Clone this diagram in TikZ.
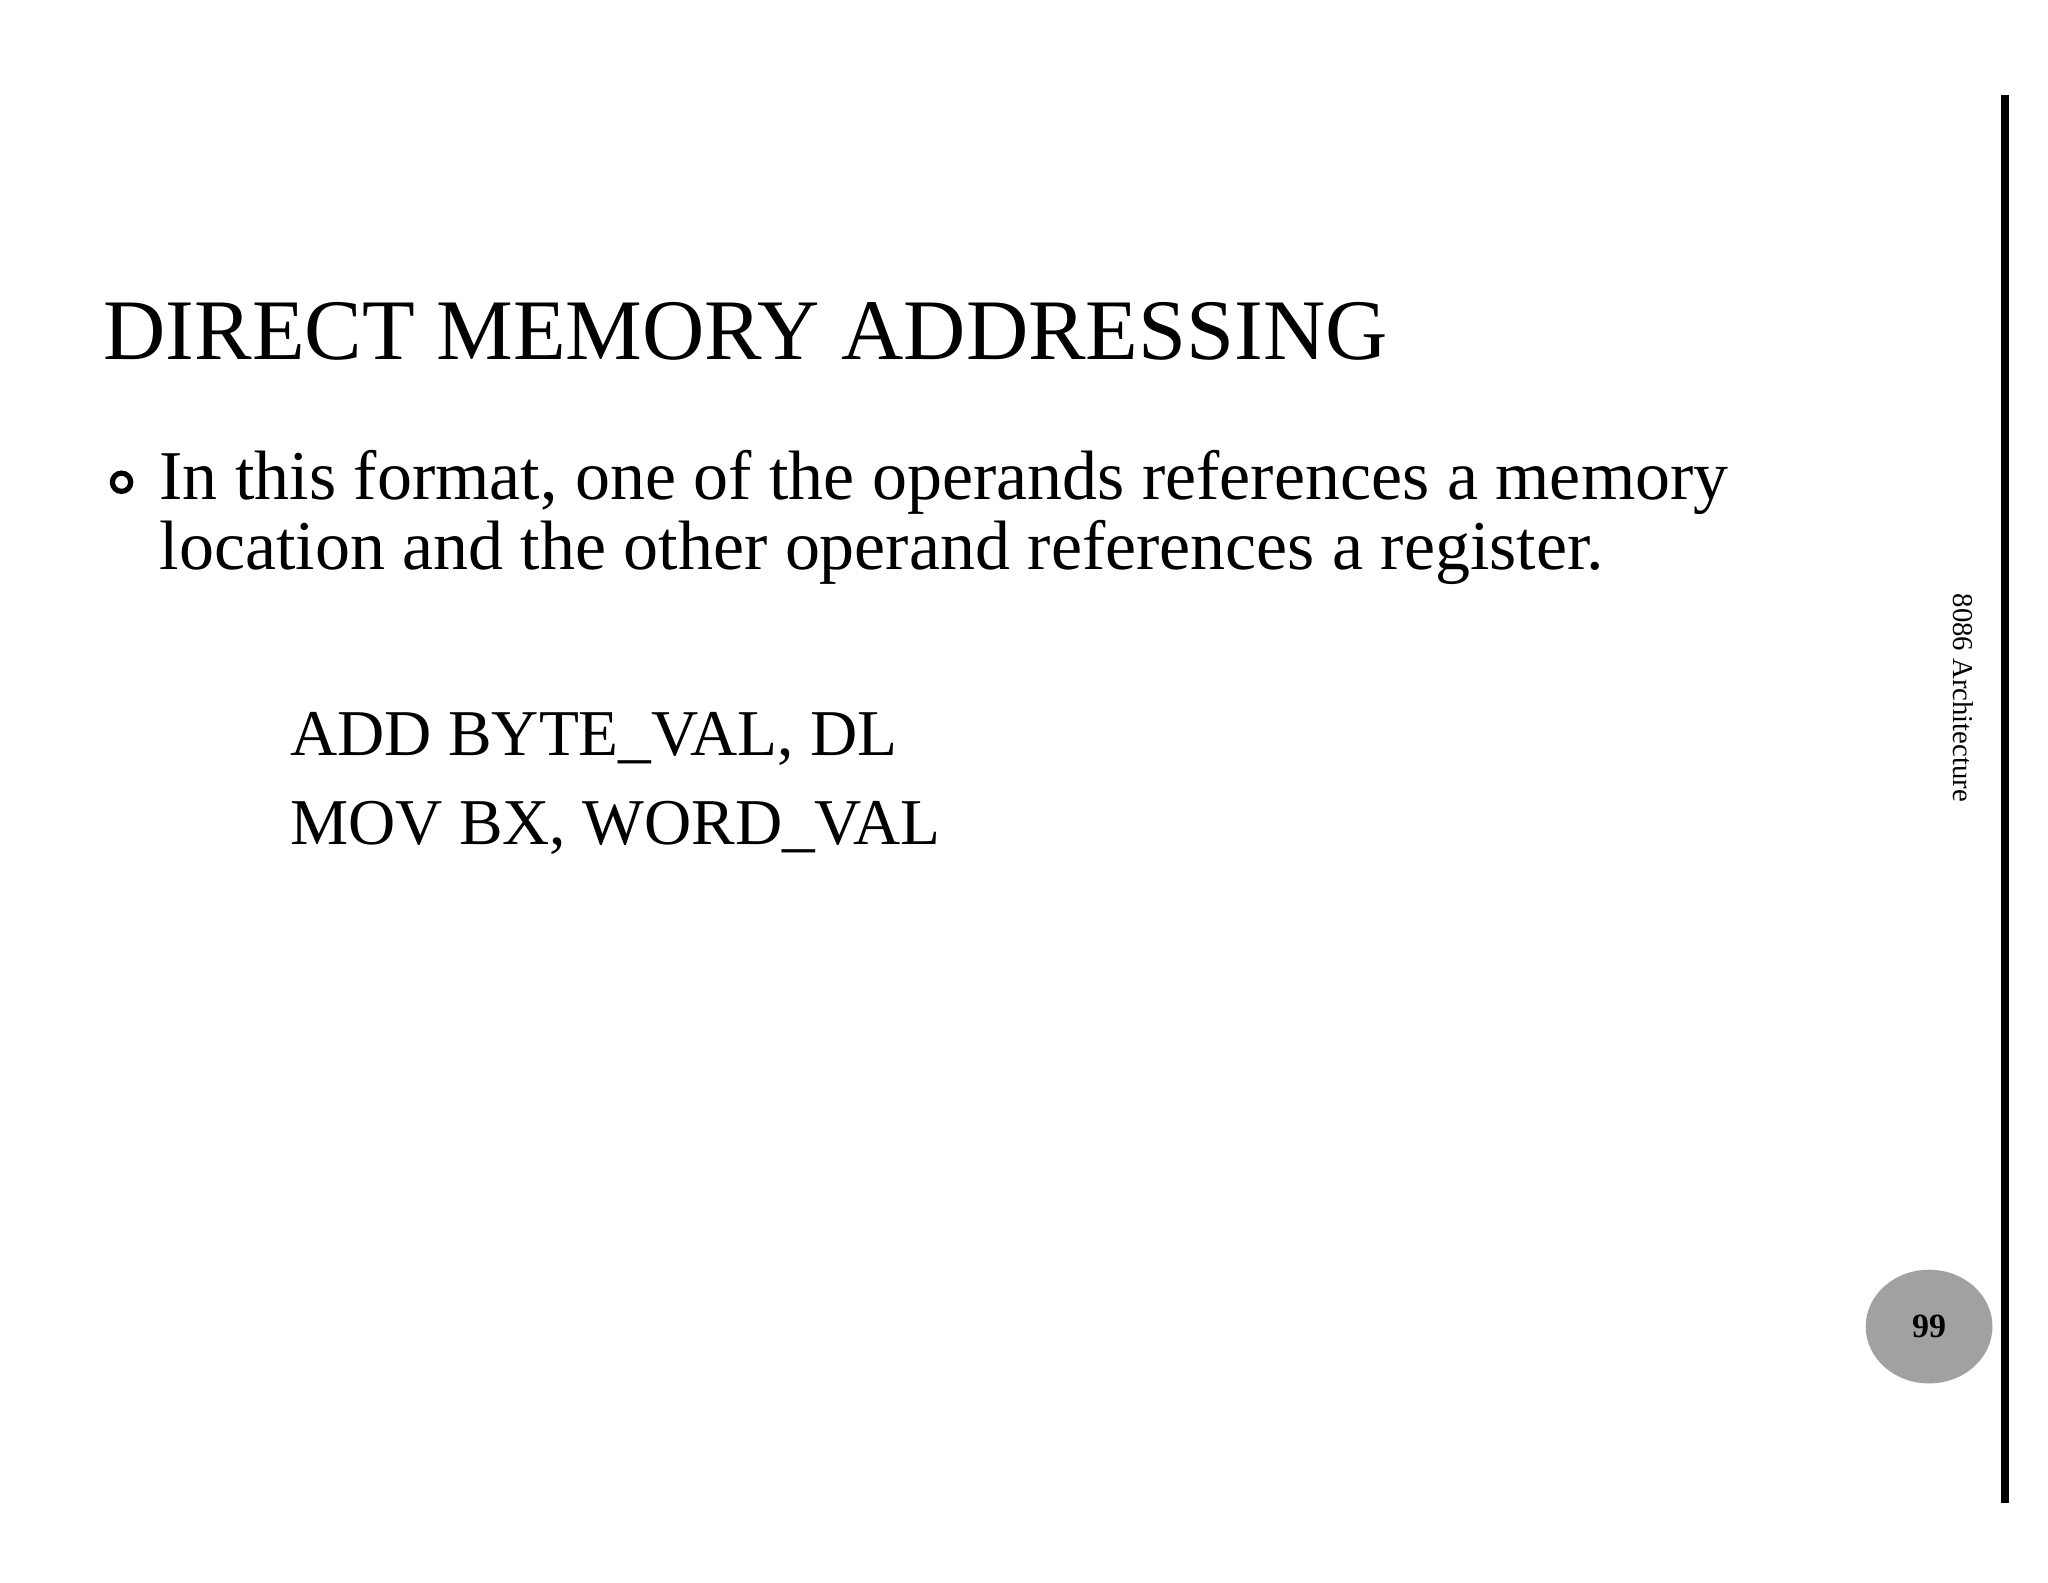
\documentclass[tikz,border=0pt]{standalone}
\usepackage{fontspec}
\usetikzlibrary{shapes.geometric}
\setmainfont{Liberation Serif}
\begin{document}
\begin{tikzpicture}[x=1pt,y=-1pt,
  txt/.style={anchor=base west,inner sep=0pt}]
\useasboundingbox[fill=white] (0,0) rectangle (1567,1211);
\fill[black] (1531,73) rectangle (1537,1150);
\node[txt,font=\fontsize{66}{70}\selectfont] (title) at (79,275) {DIRECT MEMORY ADDRESSING};
\draw[line width=4pt] (93,369) circle (7);
\node[txt,font=\fontsize{53.5}{58}\selectfont] (l1) at (122,382) {In this format, one of the operands references a memory};
\node[txt,font=\fontsize{53.5}{58}\selectfont] (l2) at (122,436) {location and the other operand references a register.};
\node[txt,font=\fontsize{50}{54}\selectfont] (c1) at (222,578) {ADD BYTE\_VAL, DL};
\node[txt,font=\fontsize{50}{54}\selectfont] (c2) at (222,646) {MOV BX, WORD\_VAL};
\node[rotate=-90,font=\fontsize{22}{24}\selectfont,inner sep=0pt] (side) at (1502,534) {8086 Architecture};
\node[ellipse,fill=black!37,minimum width=97,minimum height=87,inner sep=0pt,font=\bfseries\fontsize{26}{28}\selectfont] (pg) at (1476,1015) {99};
\end{tikzpicture}
\end{document}
